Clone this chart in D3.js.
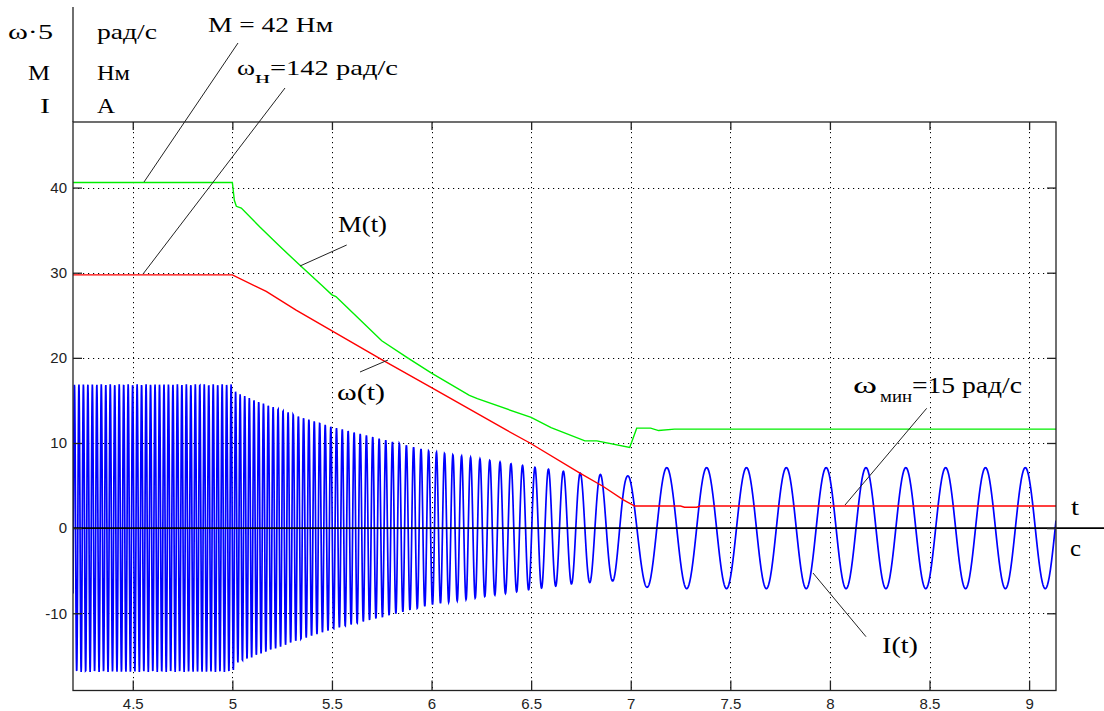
<!DOCTYPE html>
<html>
<head>
<meta charset="utf-8">
<script src="https://d3js.org/d3.v7.min.js"></script>
<style>
  body { margin: 0; background: #fff; }
  svg { display: block; }
  .tick text { font-family: "Liberation Sans", Arial, sans-serif; font-size: 15px; fill: #222; }
  .lbl { font-family: "Liberation Serif", "Times New Roman", serif; font-weight: normal; fill: #000; }
</style>
</head>
<body>
<svg id="chart" width="1104" height="711"></svg>
<script>
// axes
const xTicks = [4.5, 5, 5.5, 6, 6.5, 7, 7.5, 8, 8.5, 9];
const xTickLabels = ['4.5', '5', '5.5', '6', '6.5', '7', '7.5', '8', '8.5', '9'];
const yTicks = [-10, 0, 10, 20, 30, 40];
const yTickLabels = ['-10', '0', '10', '20', '30', '40'];
const tDomain = [4.2, 9.135];
const vDomain = [-19.07, 47.7];

// M(t), green
const torqueT = [4.2, 5.0, 5.01, 5.02, 5.045, 5.137, 5.238, 5.338, 5.45, 5.5, 5.52, 5.573,
  5.75, 5.88, 6.0, 6.19, 6.23, 6.5, 6.6, 6.77, 6.83, 6.995, 7.03, 7.1, 7.14, 7.22, 9.135];
const torqueV = [40.6, 40.6, 38.5, 37.8, 37.6, 35.4, 33.1, 30.9, 28.5, 27.4, 27.2, 26.0,
  22.0, 20.0, 18.2, 15.6, 15.2, 13.0, 11.8, 10.25, 10.25, 9.47, 11.74, 11.74, 11.46, 11.63, 11.63];

// omega(t), red
const speedT = [4.2, 5.0, 5.17, 5.32, 5.75, 6.0, 6.377, 6.494, 6.745, 6.862, 6.963, 7.02,
  7.25, 7.27, 7.33, 7.35, 9.135];
const speedV = [29.75, 29.75, 27.8, 25.6, 19.8, 16.5, 11.5, 10.0, 6.46, 4.89, 3.32, 2.6,
  2.6, 2.45, 2.45, 2.6, 2.6];

// I(t), blue: envelope and frequency
const currentFreqT = [4.2, 5.0, 5.5, 6.0, 6.5, 6.75, 7.0, 7.03, 9.135];
const currentFreqHz = [44.5, 44.5, 35.2, 25.5, 15.8, 10.9, 5.5, 5.0, 5.0];
const currentAmpT = [4.2, 5.0, 5.02, 5.15, 5.34, 5.5, 6.0, 6.25, 6.5, 6.72, 6.98, 7.1, 9.135];
const currentAmp = [16.9, 16.9, 15.9, 14.7, 13.1, 11.9, 9.0, 8.1, 7.2, 6.5, 6.1, 7.1, 7.1];
const currentPeakT = 7.181;
const currentStep = 0.001;

const svg = d3.select('#chart');
const plotLeft = 73, plotRight = 1056, plotTop = 122, plotBottom = 690.5;

const x = d3.scaleLinear().domain(tDomain).range([plotLeft, plotRight]);
const y = d3.scaleLinear().domain(vDomain).range([plotBottom, plotTop]);

svg.append('clipPath').attr('id', 'plot')
  .append('rect').attr('x', plotLeft).attr('y', plotTop)
  .attr('width', plotRight - plotLeft).attr('height', plotBottom - plotTop);

// grid
const grid = svg.append('g').attr('stroke', '#000').attr('stroke-width', 1)
  .attr('stroke-dasharray', '1.2,3.8');
grid.selectAll('.gx').data(xTicks).join('line')
  .attr('x1', (d) => Math.round(x(d)) + 0.5).attr('x2', (d) => Math.round(x(d)) + 0.5)
  .attr('y1', plotTop).attr('y2', plotBottom);
grid.selectAll('.gy').data(yTicks.filter((d) => d !== 0)).join('line')
  .attr('y1', (d) => Math.round(y(d)) + 0.5).attr('y2', (d) => Math.round(y(d)) + 0.5)
  .attr('x1', plotLeft).attr('x2', plotRight);

// current samples
const freqAt = d3.scaleLinear().domain(currentFreqT).range(currentFreqHz).clamp(true);
const ampAt = d3.scaleLinear().domain(currentAmpT).range(currentAmp).clamp(true);
const times = d3.range(Math.round((tDomain[1] - tDomain[0]) / currentStep) + 1)
  .map((i) => tDomain[0] + i * currentStep);
const phase = [0];
for (let i = 1; i < times.length; i += 1) {
  const f = (freqAt(times[i - 1]) + freqAt(times[i])) / 2;
  phase.push(phase[i - 1] + 2 * Math.PI * f * currentStep);
}
const k = (currentPeakT - tDomain[0]) / currentStep;
const k0 = Math.floor(k);
const phaseAnchor = phase[k0] + (k - k0) * (phase[k0 + 1] - phase[k0]);
const current = times.map((t, i) => [t, ampAt(t) * Math.cos(phase[i] - phaseAnchor)]);

const line = d3.line().x((d) => x(d[0])).y((d) => y(d[1]));
const curves = svg.append('g').attr('clip-path', 'url(#plot)').attr('fill', 'none');

curves.append('path').datum(current)
  .attr('d', line).attr('stroke', '#0000ff').attr('stroke-width', 1.7);
curves.append('path').datum(torqueT.map((t, i) => [t, torqueV[i]]))
  .attr('d', line).attr('stroke', '#00ee00').attr('stroke-width', 1.4);
curves.append('path').datum(speedT.map((t, i) => [t, speedV[i]]))
  .attr('d', line).attr('stroke', '#ff0000').attr('stroke-width', 1.4);

// zero line (t axis), extends past the frame
svg.append('line').attr('x1', plotLeft).attr('x2', 1104)
  .attr('y1', y(0)).attr('y2', y(0)).attr('stroke', '#000').attr('stroke-width', 1.6);

// frame
svg.append('rect').attr('x', plotLeft).attr('y', plotTop)
  .attr('width', plotRight - plotLeft).attr('height', plotBottom - plotTop)
  .attr('fill', 'none').attr('stroke', '#222').attr('stroke-width', 1.3);
svg.append('line').attr('x1', plotLeft).attr('x2', plotLeft).attr('y1', 7).attr('y2', plotTop)
  .attr('stroke', '#222').attr('stroke-width', 1.3);

// ticks
const fmtX = (d) => xTickLabels[xTicks.indexOf(d)];
const fmtY = (d) => yTickLabels[yTicks.indexOf(d)];
const axes = [
  svg.append('g').attr('transform', `translate(0,${plotBottom})`)
    .call(d3.axisBottom(x).tickValues(xTicks).tickFormat(fmtX).tickSize(-10).tickPadding(8)),
  svg.append('g').attr('transform', `translate(0,${plotTop})`)
    .call(d3.axisTop(x).tickValues(xTicks).tickFormat('').tickSize(-8)),
  svg.append('g').attr('transform', `translate(${plotLeft},0)`)
    .call(d3.axisLeft(y).tickValues(yTicks).tickFormat(fmtY).tickSize(-9).tickPadding(6)),
  svg.append('g').attr('transform', `translate(${plotRight},0)`)
    .call(d3.axisRight(y).tickValues(yTicks).tickFormat('').tickSize(-9)),
];
axes.forEach((a) => {
  a.select('.domain').remove();
  a.selectAll('.tick line').attr('stroke', '#222').attr('stroke-width', 1.3);
});

// labels
const labels = [
  { text: 'ω·5', x: 8, y: 39, w: 45, size: 21 },
  { text: 'М', x: 28, y: 80, w: 22, size: 22 },
  { text: 'I', x: 40, y: 113, w: 10, size: 22 },
  { text: 'рад/с', x: 97, y: 39, w: 60, size: 21 },
  { text: 'Нм', x: 97, y: 80, w: 33, size: 21 },
  { text: 'А', x: 97, y: 113, w: 18, size: 21 },
  { text: 'М = 42  Нм', x: 208, y: 32, w: 125, size: 22 },
  { text: 'ω', x: 237, y: 75, w: 18, size: 22 },
  { text: 'н', x: 255, y: 83, w: 15, size: 16 },
  { text: '=142  рад/с', x: 270, y: 75, w: 128, size: 22 },
  { text: 'М(t)', x: 338, y: 232, w: 49, size: 24 },
  { text: 'ω(t)', x: 337, y: 400, w: 48, size: 23 },
  { text: 'ω', x: 853, y: 393, w: 24, size: 23 },
  { text: 'мин', x: 880, y: 402, w: 32, size: 17 },
  { text: '=15 рад/с', x: 912, y: 393, w: 110, size: 23 },
  { text: 'I(t)', x: 882, y: 653, w: 36, size: 24 },
  { text: 't', x: 1071, y: 515, w: 8, size: 23 },
  { text: 'с', x: 1070, y: 556, w: 11, size: 23 },
];
svg.append('g').selectAll('text').data(labels).join('text')
  .attr('class', 'lbl')
  .attr('x', (d) => d.x).attr('y', (d) => d.y)
  .attr('font-size', (d) => d.size)
  .attr('textLength', (d) => d.w).attr('lengthAdjust', 'spacingAndGlyphs')
  .text((d) => d.text);

// leader lines
const leaders = [
  [238, 43, 144, 182],
  [285, 88, 143, 274],
  [346.7, 245, 300, 266],
  [360, 372, 388, 360],
  [926.7, 408.3, 845, 505],
  [813, 573, 866, 636.7],
];
svg.append('g').attr('stroke', '#222').attr('stroke-width', 1)
  .selectAll('line').data(leaders).join('line')
  .attr('x1', (d) => d[0]).attr('y1', (d) => d[1])
  .attr('x2', (d) => d[2]).attr('y2', (d) => d[3]);
</script>
</body>
</html>
